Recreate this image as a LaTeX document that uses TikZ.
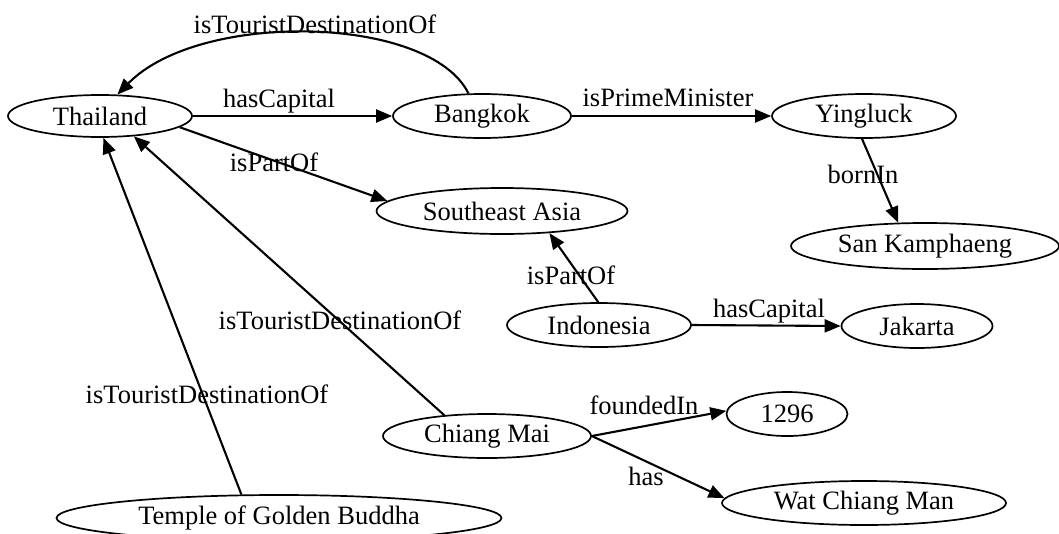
\documentclass[tikz,border=0pt]{standalone}
\usepackage{fontspec}
\setmainfont{Liberation Serif}
\usetikzlibrary{arrows.meta,shapes.geometric}
\begin{document}
\begin{tikzpicture}[x=1pt,y=-1pt,
  ent/.style={draw, ellipse, line width=1.7pt, inner sep=0pt, minimum height=44pt, font=\fontsize{26.5}{30}\selectfont},
  rel/.style={line width=2.1pt, -{Triangle[length=16pt,width=13pt]}},
  lbl/.style={inner sep=0pt, font=\fontsize{26.5}{30}\selectfont}]
\useasboundingbox (0,0) rectangle (1059,533);
% entities
\node[ent, minimum width=184pt, minimum height=42pt] (th) at (100,116) {Thailand};
\node[ent, minimum width=178pt] (bk) at (482,116) {Bangkok};
\node[ent, minimum width=184pt] (yl) at (864,116) {Yingluck};
\node[ent, minimum width=251pt, minimum height=46pt] (sea) at (502,211) {Southeast Asia};
\node[ent, minimum width=268pt, minimum height=46pt] (sk) at (925,246) {San Kamphaeng};
\node[ent, minimum width=184pt] (ind) at (599,325) {Indonesia};
\node[ent, minimum width=151pt] (jk) at (917,326) {Jakarta};
\node[ent, minimum width=208pt] (cm) at (487,436) {Chiang Mai};
\node[ent, minimum width=121pt] (y1296) at (787,414) {1296};
\node[ent, minimum width=284pt] (wcm) at (864,503) {Wat Chiang Man};
\node[ent, minimum width=445pt, minimum height=46pt] (tgb) at (279,518) {Temple of Golden Buddha};
% connectors
\draw[rel] (bk.121) .. controls (430,15) and (200,10) .. (th.51);
\draw[rel] (th.east) -- (bk.west);
\draw[rel] (th.-8) -- (sea.175);
\draw[rel] (bk.east) -- (yl.west);
\draw[rel] (yl.-95) -- (sk.139);
\draw[rel] (ind.92) -- (sea.-25);
\draw[rel] (ind.east) -- (jk.west);
\draw[rel] (cm.154) -- (th.-31);
\draw[rel] (tgb.148) -- (th.-81);
\draw[rel] (cm.east) -- (y1296.177);
\draw[rel] (cm.east) -- (wcm.178);
% labels
\node[lbl] (l1) at (315,24) {isTouristDestinationOf};
\node[lbl] (l2) at (279,101) {hasCapital};
\node[lbl] (l3) at (274,162) {isPartOf};
\node[lbl] (l4) at (668,98) {isPrimeMinister};
\node[lbl] (l5) at (863,174) {bornIn};
\node[lbl] (l6) at (571,275) {isPartOf};
\node[lbl] (l7) at (769,311) {hasCapital};
\node[lbl] (l8) at (340,320) {isTouristDestinationOf};
\node[lbl] (l9) at (207,394) {isTouristDestinationOf};
\node[lbl] (l10) at (644,405) {foundedIn};
\node[lbl] (l11) at (646,476) {has};
\end{tikzpicture}
\end{document}
